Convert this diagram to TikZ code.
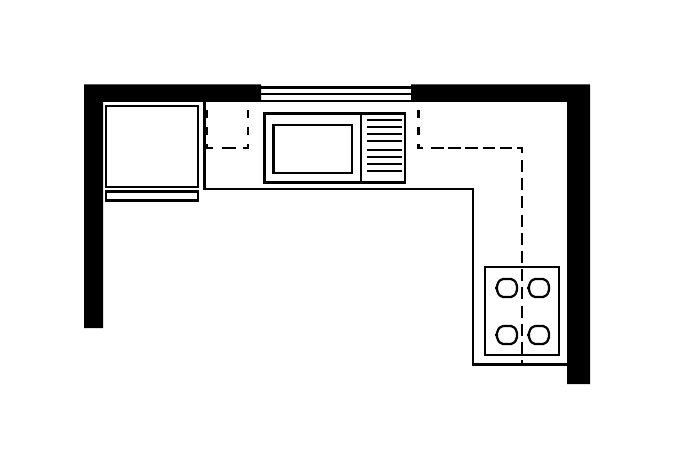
\documentclass[tikz,border=0pt]{standalone}
\begin{document}
\begin{tikzpicture}[x=0.75pt,y=-0.75pt,
  wall/.style={fill=black,draw=none},
  thick line/.style={draw=black,line width=1.75pt,fill=none},
  medium line/.style={draw=black,line width=1.6pt,fill=none,line cap=butt},
  dash base/.style={draw=black,line width=2pt},
  dash short/.style={dash base,dash pattern=on 6pt off 6.75pt},
  dash hor/.style={dash base,dash pattern=on 9.4pt off 3.5pt},
  dash ver/.style={dash base,dash pattern=on 9pt off 4.65pt},
  burner/.style={draw=black,line width=1.7pt,fill=none,rounded corners=1.5pt}]
\useasboundingbox[fill=white] (0,0) rectangle (678,452);
% walls
\fill[wall] (84,84.5) -- (261,84.5) -- (261,102) -- (103,102) -- (103,328) -- (84,328) -- cycle;
\fill[wall] (411,84.5) -- (590,84.5) -- (590,384) -- (567,384) -- (567,102) -- (411,102) -- cycle;
% window
\foreach \yy in {87.5,94.3,101}
  \draw[medium line] (261,\yy) -- (411,\yy);
% fridge
\draw[thick line] (105.8,106) rectangle (198,187);
\draw[thick line] (105.8,191.5) rectangle (198,200.5);
% counter
\draw[thick line] (204.5,102) -- (204.5,189) -- (473,189) -- (473,364.5) -- (567,364.5);
% left dashed run
\draw[dash short] (207,110) -- (207,149);
\draw[dash short] (248,110) -- (248,149);
\draw[dash base] (206,148) -- (213,148);
\draw[dash base] (222,148) -- (236,148);
\draw[dash base] (243,148) -- (249,148);
% right dashed run
\draw[dash short] (418.5,110) -- (418.5,149);
\draw[dash base] (417.5,148) -- (423,148);
\draw[dash hor] (431,148) -- (523,148);
\draw[dash base] (522,147) -- (522,153);
\draw[dash ver] (522,160) -- (522,364);
% oven and rack
\draw[thick line] (264.5,113.5) rectangle (405,182.5);
\draw[thick line] (361,113.5) -- (361,182.5);
\draw[thick line] (273.5,125) rectangle (352,173);
\foreach \yy in {120,127,134,141,150,157,164,171}
  \draw[medium line] (367,\yy) -- (402,\yy);
% hob
\draw[thick line] (485,267) rectangle (559,355);
\foreach \xx/\yy in {507/288,539/288,507/335,539/335}
  \draw[burner,shift={(\xx,\yy)}] (-10,-4) -- (-6,-9) -- (6,-9) -- (10,-4) -- (10,4) -- (6,9) -- (-6,9) -- (-10,4) -- cycle (-12,0) -- (-10,0);
\end{tikzpicture}
\end{document}
